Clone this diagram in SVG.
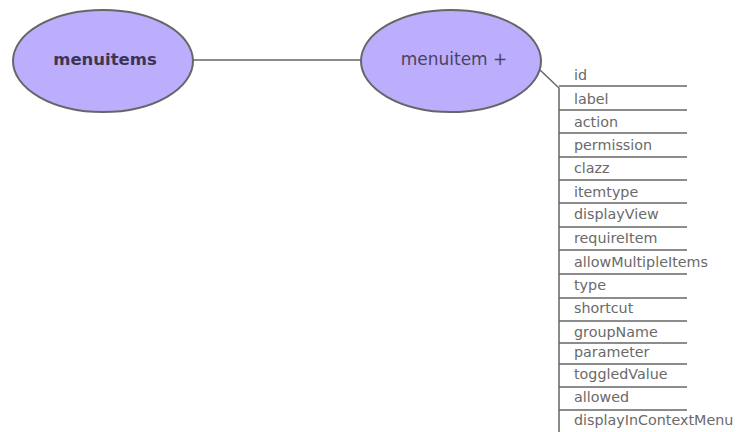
<svg xmlns="http://www.w3.org/2000/svg" width="742" height="432" viewBox="0 0 742 432">
<style>
.node ellipse{fill:#bcaefc;stroke:#666;stroke-width:2}
.conn line,.conn path{stroke:#666;stroke-width:1.5;fill:none}
.row line{stroke:#666;stroke-width:1.5}
.attr{font-family:"DejaVu Sans",Verdana,sans-serif;font-size:14.3px;fill:#6a6a6a}
</style>
<rect width="742" height="432" fill="#fff"/>
<g class="conn" id="connectors">
<line x1="193" y1="60" x2="361" y2="60"/>
<path d="M540 70 L559 88 L559 432"/>
</g>
<g class="node" id="menuitems">
<ellipse cx="103" cy="61" rx="90" ry="51"/>
<text x="105" y="65" text-anchor="middle" font-family="DejaVu Sans,Verdana,sans-serif" font-weight="bold" font-size="16.5" fill="#3c3552">menuitems</text>
</g>
<g class="node" id="menuitem">
<ellipse cx="451" cy="61" rx="90" ry="51"/>
<text x="454" y="65" text-anchor="middle" font-family="DejaVu Sans,Verdana,sans-serif" font-size="17" fill="#4a4262">menuitem +</text>
</g>
<g id="attributes" class="row">
<line x1="559" y1="86" x2="687" y2="86"/>
<line x1="559" y1="110" x2="687" y2="110"/>
<line x1="559" y1="133" x2="687" y2="133"/>
<line x1="559" y1="157" x2="687" y2="157"/>
<line x1="559" y1="180" x2="687" y2="180"/>
<line x1="559" y1="203" x2="687" y2="203"/>
<line x1="559" y1="227" x2="687" y2="227"/>
<line x1="559" y1="250" x2="687" y2="250"/>
<line x1="559" y1="274" x2="687" y2="274"/>
<line x1="559" y1="298" x2="687" y2="298"/>
<line x1="559" y1="321" x2="687" y2="321"/>
<line x1="559" y1="343" x2="687" y2="343"/>
<line x1="559" y1="364" x2="687" y2="364"/>
<line x1="559" y1="387" x2="687" y2="387"/>
<line x1="559" y1="410" x2="687" y2="410"/>
<text class="attr" x="574" y="80">id</text>
<text class="attr" x="574" y="104">label</text>
<text class="attr" x="574" y="127">action</text>
<text class="attr" x="574" y="150">permission</text>
<text class="attr" x="574" y="173">clazz</text>
<text class="attr" x="574" y="197">itemtype</text>
<text class="attr" x="574" y="219">displayView</text>
<text class="attr" x="574" y="243">requireItem</text>
<text class="attr" x="574" y="267">allowMultipleItems</text>
<text class="attr" x="574" y="290">type</text>
<text class="attr" x="574" y="313">shortcut</text>
<text class="attr" x="574" y="337">groupName</text>
<text class="attr" x="574" y="357">parameter</text>
<text class="attr" x="574" y="379">toggledValue</text>
<text class="attr" x="574" y="402">allowed</text>
<text class="attr" x="574" y="425">displayInContextMenu</text>
</g>
</svg>
